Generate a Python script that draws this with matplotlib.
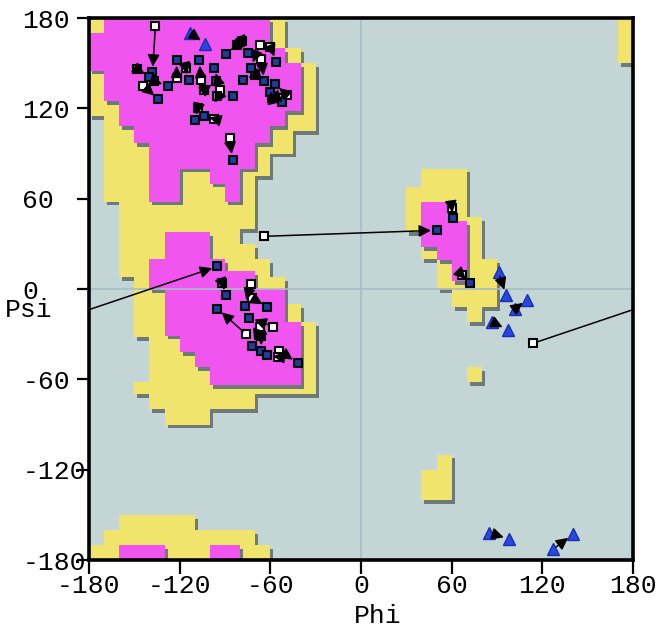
import matplotlib
matplotlib.use("Agg")
import matplotlib.pyplot as plt
from matplotlib.patches import FancyArrowPatch

plt.rcParams['font.family'] = ['Liberation Mono', 'DejaVu Sans Mono']
plt.rcParams['axes.unicode_minus'] = False

# allowed (yellow) and core (magenta) regions: (psi_lo, psi_hi, [(phi_lo, phi_hi), ...])
allowed_bands = [
    (170, 180, [(-180, -50), (170, 180)]),
    (160, 170, [(-180, -50), (170, 180)]),
    (150, 160, [(-180, -40), (170, 180)]),
    (115, 150, [(-180, -30)]),
    (105, 115, [(-170, -30)]),
    (90, 105, [(-170, -45)]),
    (75, 90, [(-170, -60)]),
    (58, 75, [(-170, -70)]),
    (40, 58, [(-160, -70)]),
    (30, 40, [(-160, -80)]),
    (20, 30, [(-160, -70)]),
    (8, 20, [(-160, -60)]),
    (-10, 8, [(-150, -50)]),
    (-22, -10, [(-150, -40)]),
    (-32, -22, [(-150, -30)]),
    (-62, -32, [(-140, -30)]),
    (-70, -62, [(-150, -30)]),
    (-80, -70, [(-140, -70)]),
    (-90, -80, [(-130, -100)]),
    (-160, -150, [(-160, -110)]),
    (-170, -160, [(-170, -70)]),
    (-180, -170, [(-180, -60)]),
    (68, 80, [(40, 70)]),
    (48, 68, [(30, 70)]),
    (38, 48, [(30, 80)]),
    (20, 38, [(40, 80)]),
    (0, 20, [(50, 90)]),
    (-12, 0, [(60, 90)]),
    (-22, -12, [(70, 80)]),
    (-62, -52, [(70, 80)]),
    (-120, -110, [(50, 60)]),
    (-140, -120, [(40, 60)]),
]
core_bands = [
    (170, 180, [(-170, -60)]),
    (160, 170, [(-180, -60)]),
    (150, 160, [(-180, -50)]),
    (145, 150, [(-180, -40)]),
    (125, 145, [(-170, -40)]),
    (118, 125, [(-160, -40)]),
    (108, 118, [(-160, -50)]),
    (97, 108, [(-150, -60)]),
    (80, 97, [(-140, -70)]),
    (70, 80, [(-140, -120), (-100, -80)]),
    (58, 70, [(-140, -120), (-90, -80)]),
    (20, 38, [(-130, -100)]),
    (12, 20, [(-140, -90)]),
    (0, 12, [(-140, -70)]),
    (-22, 0, [(-130, -50)]),
    (-31, -22, [(-130, -40)]),
    (-42, -31, [(-120, -40)]),
    (-52, -42, [(-110, -40)]),
    (-64, -52, [(-100, -40)]),
    (-180, -170, [(-160, -130), (-100, -80)]),
    (45, 58, [(40, 60)]),
    (28, 45, [(40, 70)]),
    (19, 28, [(50, 70)]),
    (5, 19, [(60, 70)]),
]

# residues: start (white) -> end (blue)
start_phi = [-136, -148, -144, -137, -122, -116, -106, -104, -93, -82, -79, -67, -60, -66, -70,
             -95, -59, -55, -49, -108, -97, -87,
             114, -64, -92, -73, -72, -58, -76, -67, -66, -54, -55,
             60, 67]
start_psi = [175, 146, 135, 138, 140, 147, 139, 132, 132, 162, 165, 162, 161, 153, 142,
             128, 127, 127, 129, 120, 113, 100,
             -36, 35, 4, 3, -6, -25, -30, -25, -31, -41, -45,
             54, 9]
end_phi = [-138, -140, -134, -128, -122, -114, -107, -96, -97, -89, -75, -73, -56, -64, -78,
           -85, -60, -52, -57, -110, -104, -85,
           -95, 50, -89, -77, -62, -74, -95, -72, -66, -42, -62,
           61, 72]
end_psi = [144, 141, 126, 135, 152, 139, 152, 138, 147, 156, 157, 147, 151, 138, 139,
           128, 131, 124, 136, 112, 115, 86,
           15, 39, -4, -11, -12, -19, -13, -38, -41, -49, -44,
           47, 4]

# glycines
gly_start_phi = [-113, 91, 102, 87, 85, 127]
gly_start_psi = [170, 11, -13, -22, -162, -173]
gly_end_phi = [-103, 96, 110, 97, 98, 140]
gly_end_psi = [163, -4, -7, -27, -166, -163]

BG = '#c3d5d4'
YEL = '#f0e46c'
MAG = '#f055f0'
SHADOW = '#6e7a78'

fig = plt.figure(figsize=(6.7, 6.32), dpi=100)
ax = fig.add_axes([0.1328, 0.1139, 0.812, 0.8576])
ax.set_facecolor(BG)


def draw_bands(bands, color, z):
    for lo, hi, spans in bands:
        ranges = [(a, b - a) for a, b in spans]
        ax.broken_barh([(a + 2, w) for a, w in ranges], (lo - 2.5, hi - lo),
                       facecolor=SHADOW, edgecolor='none', zorder=z)
    for lo, hi, spans in bands:
        ranges = [(a, b - a) for a, b in spans]
        ax.broken_barh(ranges, (lo, hi - lo), facecolor=color, edgecolor='none', zorder=z + 0.5)


draw_bands(allowed_bands, YEL, 1)
draw_bands(core_bands, MAG, 2)

ax.axhline(0, color='#a9bcc6', lw=1.2, zorder=3)
ax.axvline(0, color='#a9bcc6', lw=1.2, zorder=3)


def arrow(p0, p1):
    a = FancyArrowPatch(p0, p1, arrowstyle='-|>,head_length=0.6,head_width=0.3',
                        mutation_scale=12, color='black', lw=1.1,
                        shrinkA=3, shrinkB=4, zorder=6)
    ax.add_patch(a)


def link(x0, y0, x1, y1):
    if x1 - x0 > 180:
        arrow((x0 + 360, y0), (x1, y1))
        arrow((x0, y0), (x1 - 360, y1))
    elif x0 - x1 > 180:
        arrow((x0, y0), (x1 + 360, y1))
        arrow((x0 - 360, y0), (x1, y1))
    else:
        arrow((x0, y0), (x1, y1))


for i in range(len(start_phi)):
    link(start_phi[i], start_psi[i], end_phi[i], end_psi[i])
for i in range(len(gly_start_phi)):
    link(gly_start_phi[i], gly_start_psi[i], gly_end_phi[i], gly_end_psi[i])

ax.plot(start_phi, start_psi, 's', ms=5.2, mfc='white', mec='black', mew=1.5, zorder=5)
ax.plot(end_phi, end_psi, 's', ms=5.2, mfc='#1d3c9c', mec='black', mew=1.5, zorder=5)
ax.plot(gly_start_phi + gly_end_phi, gly_start_psi + gly_end_psi, '^', ms=8,
        mfc='#2848e0', mec='#1830b0', mew=1, zorder=5)

ax.set_xlim(-180, 180)
ax.set_ylim(-180, 180)
ticks = [-180, -120, -60, 0, 60, 120, 180]
ax.set_xticks(ticks)
ax.set_xticklabels([str(t) for t in ticks], fontsize=19)
ax.set_yticks(ticks)
ax.set_yticklabels([str(t) for t in ticks], fontsize=19)
for lab in ax.get_yticklabels():
    lab.set_horizontalalignment('left')
ax.tick_params(axis='x', direction='out', length=10, width=1.6, pad=0)
ax.tick_params(axis='y', direction='out', length=9, width=1.6, pad=39)
for s in ax.spines.values():
    s.set_linewidth(2.6)
    s.set_zorder(7)

ax.set_xlabel('Phi', fontsize=19)
ax.xaxis.set_label_coords(0.531, -0.082)
ax.set_ylabel('Psi', fontsize=19, rotation=0, ha='left', va='center')
ax.yaxis.set_label_coords(-0.155, 0.462)

fig.savefig('out.png', dpi=100)
